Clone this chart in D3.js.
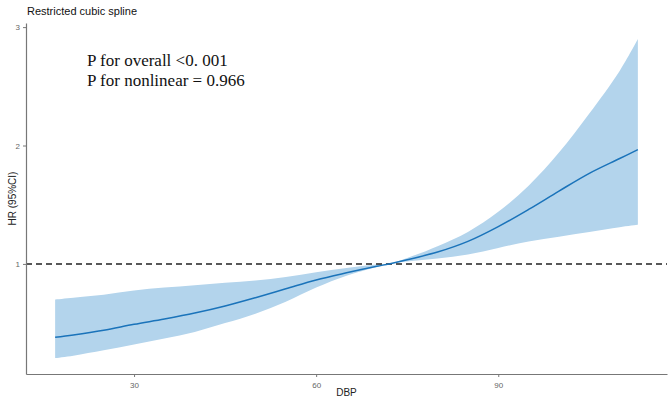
<!DOCTYPE html>
<html>
<head>
<meta charset="utf-8">
<script src="https://cdn.jsdelivr.net/npm/d3@7"></script>
<style>
  body { margin: 0; background: #fff; }
  svg { display: block; }
</style>
</head>
<body>
<div id="chart"></div>
<script>
// values
var dbp = [17, 20, 25, 30, 35, 40, 45, 50, 55, 60, 65, 70, 72, 75, 80, 85, 90, 95, 100, 105, 110, 113];
var hr = [0.38, 0.40, 0.44, 0.49, 0.535, 0.585, 0.645, 0.715, 0.79, 0.865, 0.925, 0.98, 1.0, 1.035, 1.10, 1.19, 1.315, 1.46, 1.615, 1.765, 1.89, 1.965];
var upper = [0.70, 0.715, 0.74, 0.775, 0.80, 0.82, 0.84, 0.86, 0.89, 0.93, 0.965, 0.995, 1.0, 1.05, 1.15, 1.27, 1.44, 1.66, 1.94, 2.27, 2.63, 2.90];
var lower = [0.205, 0.225, 0.27, 0.32, 0.37, 0.425, 0.50, 0.58, 0.68, 0.80, 0.90, 0.975, 1.0, 1.02, 1.045, 1.08, 1.135, 1.19, 1.23, 1.27, 1.31, 1.33];
var xTicks = [30, 60, 90];
var yTicks = [1, 2, 3];
var pLines = ["P for overall <0. 001", "P for nonlinear = 0.966"];

var width = 669, height = 400;
var margin = { top: 23, right: 2, bottom: 26, left: 26 };

var rows = dbp.map(function (d, i) {
    return { x: d, y: hr[i], lo: lower[i], hi: upper[i] };
});

var svg = d3.select("#chart").append("svg")
    .attr("width", width)
    .attr("height", height);

//scales with ggplot-like 5% expansion
var xr = d3.extent(dbp), xs = (xr[1] - xr[0]) * 0.05;
var yr = [d3.min(lower), d3.max(upper)], ys = (yr[1] - yr[0]) * 0.05;

var x = d3.scaleLinear()
    .domain([xr[0] - xs, xr[1] + xs])
    .range([margin.left, width - margin.right]);
var y = d3.scaleLinear()
    .domain([yr[0] - ys, yr[1] + ys])
    .range([height - margin.bottom, margin.top]);

//confidence band
var band = d3.area()
    .x(function (d) { return x(d.x); })
    .y0(function (d) { return y(d.lo); })
    .y1(function (d) { return y(d.hi); })
    .curve(d3.curveCatmullRom.alpha(0.5));

svg.append("path")
    .datum(rows)
    .attr("d", band)
    .attr("fill", "#b3d4ec");

//reference line at HR = 1
svg.append("line")
    .attr("x1", margin.left)
    .attr("x2", width - margin.right)
    .attr("y1", y(1))
    .attr("y2", y(1))
    .attr("stroke", "#222")
    .attr("stroke-width", 1.5)
    .attr("stroke-dasharray", "6,4");

//fitted curve
var line = d3.line()
    .x(function (d) { return x(d.x); })
    .y(function (d) { return y(d.y); })
    .curve(d3.curveCatmullRom.alpha(0.5));

svg.append("path")
    .datum(rows)
    .attr("d", line)
    .attr("fill", "none")
    .attr("stroke", "#1a73ba")
    .attr("stroke-width", 1.5);

//axes
var xAxis = svg.append("g")
    .attr("transform", "translate(0," + (height - margin.bottom) + ")")
    .call(d3.axisBottom(x).tickValues(xTicks).tickFormat(d3.format("d"))
        .tickSize(3).tickSizeOuter(0).tickPadding(5));
var yAxis = svg.append("g")
    .attr("transform", "translate(" + margin.left + ",0)")
    .call(d3.axisLeft(y).tickValues(yTicks).tickFormat(d3.format("d"))
        .tickSize(3).tickSizeOuter(0).tickPadding(3));

[xAxis, yAxis].forEach(function (g) {
    g.select(".domain").attr("stroke", "#777").attr("stroke-width", 1.2);
    g.selectAll(".tick line").attr("stroke", "#777");
    g.selectAll(".tick text")
        .attr("fill", "#666")
        .attr("font-family", "Liberation Sans, Arial, sans-serif")
        .attr("font-size", "8px");
});

//titles and labels
svg.append("text")
    .attr("x", 27)
    .attr("y", 15)
    .text("Restricted cubic spline")
    .attr("font-family", "Liberation Sans, Arial, sans-serif")
    .attr("font-size", "11px")
    .attr("fill", "#111");

svg.append("text")
    .attr("x", (margin.left + width - margin.right) / 2)
    .attr("y", 396)
    .attr("text-anchor", "middle")
    .text("DBP")
    .attr("font-family", "Liberation Sans, Arial, sans-serif")
    .attr("font-size", "10px")
    .attr("fill", "#222");

svg.append("text")
    .attr("transform", "translate(16," + ((margin.top + height - margin.bottom) / 2) + ") rotate(-90)")
    .attr("text-anchor", "middle")
    .text("HR (95%CI)")
    .attr("font-family", "Liberation Sans, Arial, sans-serif")
    .attr("font-size", "10px")
    .attr("fill", "#222");

svg.selectAll(".pval")
    .data(pLines)
    .enter()
    .append("text")
    .attr("class", "pval")
    .attr("x", 87)
    .attr("y", function (d, i) { return 66 + i * 20; })
    .text(function (d) { return d; })
    .attr("font-family", "Liberation Serif, Times New Roman, serif")
    .attr("font-size", "17px")
    .attr("fill", "#111");
</script>
</body>
</html>
